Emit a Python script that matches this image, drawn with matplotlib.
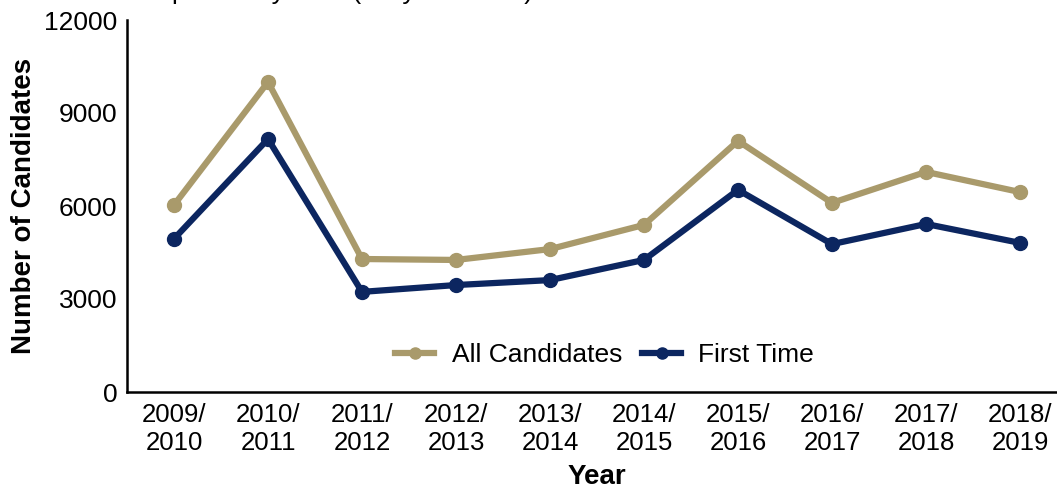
import matplotlib.pyplot as plt
import numpy as np

plt.rcParams['font.family'] = ['Liberation Sans', 'DejaVu Sans']

years = ['2009/\n2010', '2010/\n2011', '2011/\n2012', '2012/\n2013', '2013/\n2014',
         '2014/\n2015', '2015/\n2016', '2016/\n2017', '2017/\n2018', '2018/\n2019']
all_candidates = [6030, 10000, 4290, 4260, 4610, 5390, 8100, 6100, 7100, 6450]
first_time = [4940, 8160, 3230, 3450, 3610, 4260, 6520, 4770, 5420, 4810]

tan = '#A99A6B'
navy = '#0C2660'

fig = plt.figure(figsize=(10.57, 4.9), dpi=100)
ax = fig.add_axes([127 / 1057, 98 / 490, 940 / 1057, 372 / 490])

x = np.arange(len(years))
ax.plot(x, all_candidates, color=tan, lw=4.5, marker='o', ms=10, label='All Candidates')
ax.plot(x, first_time, color=navy, lw=4.5, marker='o', ms=10, label='First Time')

ax.set_xlim(-0.5, len(years) - 0.5)
ax.set_ylim(0, 12000)
ax.set_yticks([0, 3000, 6000, 9000, 12000])
ax.set_xticks(x)
ax.set_xticklabels(years, fontsize=18.5, linespacing=1.22)
ax.tick_params(axis='y', labelsize=19, length=0, pad=7)
ax.tick_params(axis='x', length=0, pad=8)

for s in ['top', 'right']:
    ax.spines[s].set_visible(False)
for s in ['left', 'bottom']:
    ax.spines[s].set_linewidth(1.8)

ax.set_xlabel('Year', fontsize=20, fontweight='bold', labelpad=6)
ax.set_ylabel('Number of Candidates', fontsize=20, fontweight='bold', labelpad=5)

ax.legend(loc='center', bbox_to_anchor=(0.508, 0.1), ncol=2, frameon=False,
          fontsize=19, handlelength=1.5, handletextpad=0.65, columnspacing=0.75,
          markerscale=0.8)

# title sits mostly above the visible area
fig.text(31 / 1057, 1.0 + 1 / 490, 'Candidates per Study Year (Only Full-time)', fontsize=19,
         va='baseline', ha='left')

fig.savefig('out.png', dpi=100)
